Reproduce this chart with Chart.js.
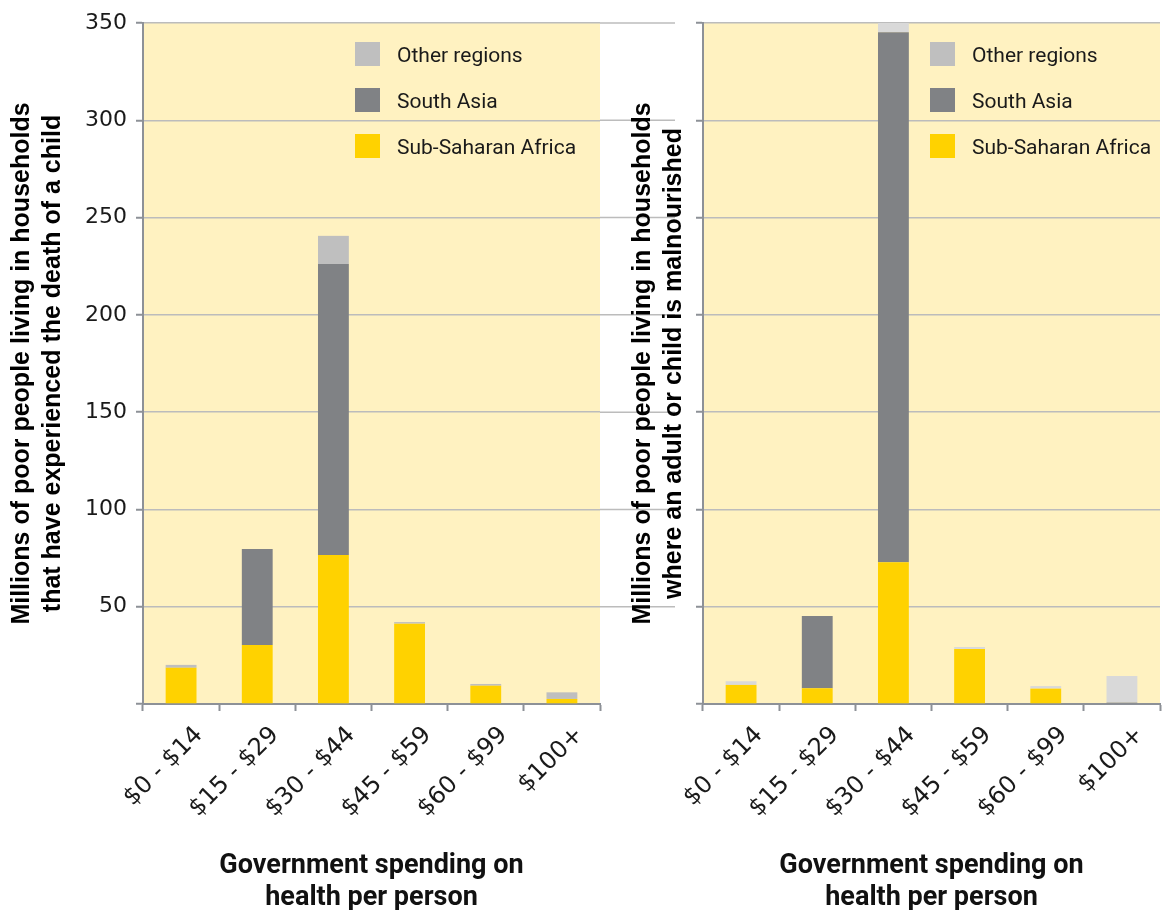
<!DOCTYPE html>
<html lang="en">
<head>
<meta charset="UTF-8" />
<title>Poor people by government health spending</title>
<script src="https://cdn.jsdelivr.net/npm/chart.js"></script>
<style>
  body { margin: 0; background: #fff; }
  .wrap { position: relative; width: 1163px; height: 910px; }
  #leftBox { position: absolute; left: 0; top: 0; width: 690px; height: 910px; }
  #rightBox { position: absolute; left: 605px; top: 0; width: 558px; height: 910px; }
</style>
</head>
<body>
<div class="wrap">
  <div id="leftBox"><canvas id="deathChart"></canvas></div>
  <div id="rightBox"><canvas id="malnChart"></canvas></div>
</div>

<script>
  const spendBands = ['$0 - $14', '$15 - $29', '$30 - $44', '$45 - $59', '$60 - $99', '$100+'];
  const regionNames = ['Sub-Saharan Africa', 'South Asia', 'Other regions'];
  const yMax = 350;
  const yStep = 50;

  // left: households that have experienced the death of a child (millions)
  const deathSSA = [18.6, 30.3, 76.6, 41.3, 9.4, 2.6];
  const deathSouthAsia = [0, 49.3, 149.5, 0, 0, 0];
  const deathOther = [1.5, 0, 14.5, 0.8, 0.9, 3.4];

  // right: households where an adult or child is malnourished (millions)
  const malnSSA = [9.8, 8.1, 72.8, 28.3, 7.9, 0];
  const malnSouthAsia = [0, 37.1, 272.5, 0, 0, 0.7];
  const malnOther = [1.9, 0, 5.0, 1.0, 1.3, 13.7];

  const AXIS = '#8d9197';
  const GRID = '#bcbcbc';

  // yellow plot background
  const plotBg = {
    id: 'plotBg',
    beforeDraw(chart) {
      const { ctx, chartArea: a } = chart;
      ctx.save();
      ctx.fillStyle = '#fff2c1';
      ctx.fillRect(a.left, a.top, a.right - a.left, a.bottom - a.top);
      ctx.restore();
    }
  };

  // gridlines on the left chart run on past the plot edge
  const gridTail = {
    id: 'gridTail',
    afterDraw(chart, args, opts) {
      if (!opts.length) return;
      const { ctx, chartArea: a, scales } = chart;
      ctx.save();
      ctx.strokeStyle = GRID;
      ctx.lineWidth = 1.5;
      scales.y.ticks.forEach(t => {
        if (t.value === 0) return;
        const y = scales.y.getPixelForValue(t.value);
        ctx.beginPath();
        ctx.moveTo(a.right, y);
        ctx.lineTo(a.right + opts.length, y);
        ctx.stroke();
      });
      ctx.restore();
    }
  };

  // legend boxes inside the plot, top right
  const boxLegend = {
    id: 'boxLegend',
    afterDatasetsDraw(chart, args, opts) {
      const { ctx, chartArea: a } = chart;
      const x = a.right - opts.fromRight;
      const sets = chart.data.datasets.slice().reverse();
      ctx.save();
      sets.forEach((ds, i) => {
        const y = a.top + 19 + i * 46;
        ctx.fillStyle = opts.swatches[sets.length - 1 - i];
        ctx.fillRect(x, y, 25, 24);
        ctx.fillStyle = '#1a1a1a';
        ctx.font = '21px Roboto';
        ctx.textBaseline = 'middle';
        ctx.textAlign = 'left';
        ctx.fillText(ds.label, x + 42, y + 15);
      });
      ctx.restore();
    }
  };

  function makeChart(id, series, cfg) {
    const colors = ['#ffd200', '#808285', cfg.otherColor];
    return new Chart(document.getElementById(id), {
      type: 'bar',
      data: {
        labels: spendBands,
        datasets: series.map((vals, i) => ({
          label: regionNames[i],
          data: vals,
          backgroundColor: colors[i],
          categoryPercentage: 1,
          barPercentage: 0.405
        }))
      },
      plugins: [plotBg, gridTail, boxLegend],
      options: {
        responsive: true,
        maintainAspectRatio: false,
        animation: false,
        layout: { padding: { top: 23, left: 0, right: cfg.rightPad, bottom: 0 } },
        plugins: {
          legend: { display: false },
          tooltip: { enabled: false },
          gridTail: { length: cfg.tail },
          boxLegend: { fromRight: cfg.legendFromRight, swatches: ['#ffd200', '#808285', '#bfbfbf'] }
        },
        scales: {
          x: {
            stacked: true,
            afterFit(s) { s.height = 206; },
            grid: { display: true, drawOnChartArea: false, offset: true, tickLength: 7, tickColor: AXIS, tickWidth: 2 },
            border: { color: AXIS, width: 2 },
            ticks: {
              maxRotation: 45, minRotation: 45, autoSkip: false,
              padding: 10, labelOffset: 18,
              color: '#1a1a1a',
              font: { family: 'DejaVu Sans', size: 24 }
            },
            title: {
              display: true,
              text: ['Government spending on', 'health per person'],
              color: '#111',
              font: { family: 'Roboto', weight: 'bold', size: 27, lineHeight: '32px' },
              padding: { top: 0, bottom: -4 }
            }
          },
          y: {
            stacked: true,
            min: 0, max: yMax,
            afterFit(s) { s.width = cfg.yWidth; },
            grid: { color: GRID, lineWidth: 1.5, tickLength: 7, tickColor: AXIS, tickWidth: 2 },
            border: { color: AXIS, width: 2 },
            ticks: {
              stepSize: yStep,
              padding: 9,
              color: '#1a1a1a',
              font: { family: 'DejaVu Sans', size: 22 },
              callback: v => (cfg.showTicks && v !== 0) ? v : ''
            },
            title: {
              display: true,
              text: cfg.yTitle,
              color: '#000',
              font: { family: 'Liberation Sans', weight: 'bold', size: 25, lineHeight: '31px' },
              padding: { top: cfg.titlePad, bottom: 0 }
            }
          }
        }
      }
    });
  }

  makeChart('deathChart', [deathSSA, deathSouthAsia, deathOther], {
    otherColor: '#bfbfbf', rightPad: 90, tail: 75, legendFromRight: 245,
    yWidth: 143, showTicks: true, titlePad: 6.5,
    yTitle: ['Millions of poor people living in households', 'that have experienced the death of a child']
  });

  makeChart('malnChart', [malnSSA, malnSouthAsia, malnOther], {
    otherColor: '#d9d9d9', rightPad: 3, tail: 0, legendFromRight: 230,
    yWidth: 98, showTicks: false, titlePad: 22.5,
    yTitle: ['Millions of poor people living in households', 'where an adult or child is malnourished']
  });
</script>
</body>
</html>
